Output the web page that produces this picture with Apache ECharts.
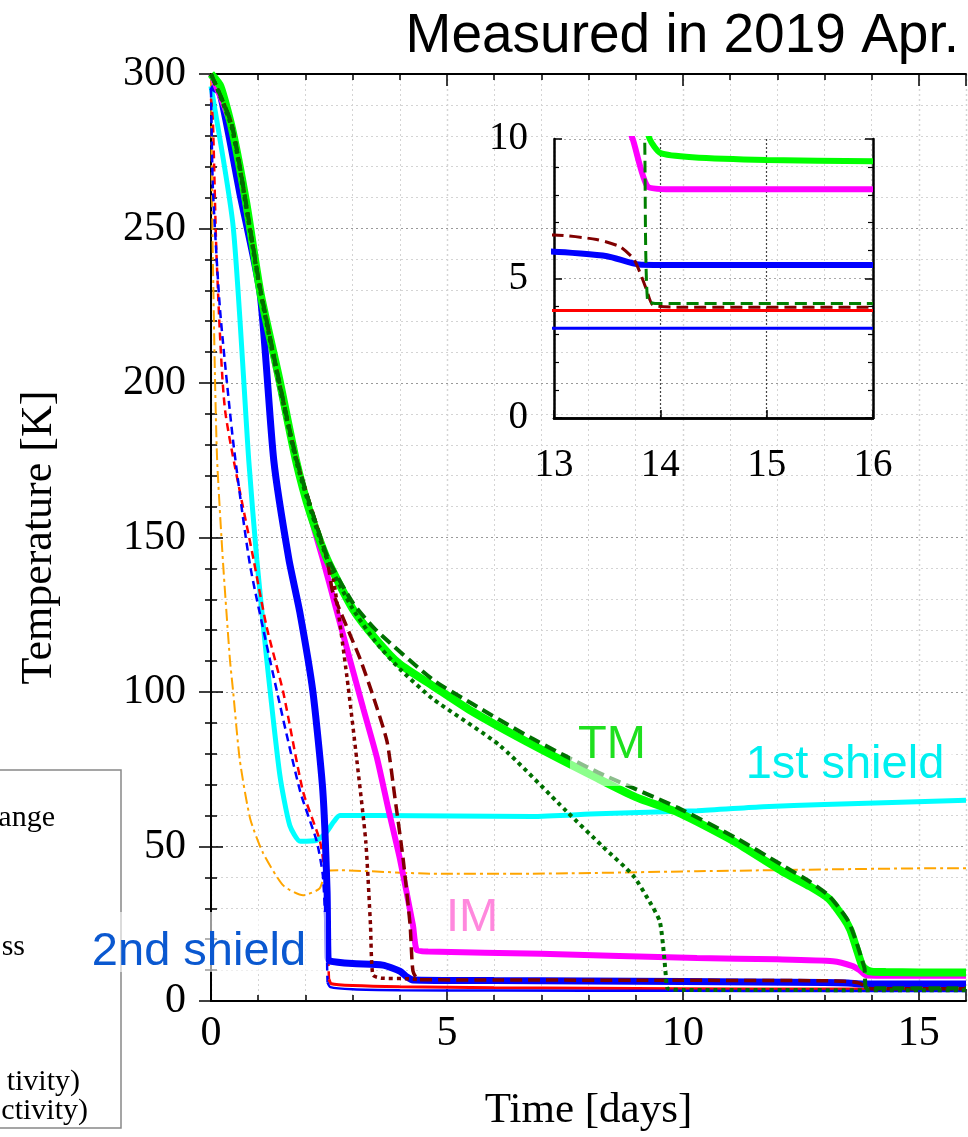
<!DOCTYPE html>
<html>
<head>
<meta charset="utf-8">
<title>Cooling curves</title>
<script src="https://cdn.jsdelivr.net/npm/echarts@6/dist/echarts.min.js"></script>
<style>
  html, body { margin: 0; padding: 0; background: #fff; }
  #chart { width: 968px; height: 1137px; }
</style>
</head>
<body>
<div id="chart"></div>
<script>
// [day, K]
const tmMeasured = [[0,300],[0.2,296],[0.45,282],[0.75,258],[1.05,229],[1.45,201],[1.8,175],[2.1,158],[2.46,143],[3.0,127],[3.5,117],[4.0,109],[4.7,102],[5.5,94],[6.8,83],[8.2,72],[9.0,66],[9.9,61],[10.3,58],[11.1,51.5],[12.1,42],[12.7,37],[13.1,33],[13.4,27],[13.55,23],[13.7,16],[13.8,11.5],[13.9,10],[14.0,9.5],[14.3,9.35],[15.0,9.25],[16,9.2]];
const tmSimDashed = [[0,300],[0.45,283],[1.05,230],[1.8,176],[2.46,144],[3.0,129],[3.5,120],[4.7,104],[5.5,96.5],[6.8,85],[8.2,74],[9.9,62.5],[11.1,53],[12.1,44],[12.7,38.5],[13.1,34],[13.5,26],[13.7,18],[13.8,13],[13.85,10.5],[13.88,4.2],[14.0,4.1],[16,4.1]];
const tmSimDotted = [[0,300],[0.45,282],[1.05,229],[1.8,175],[2.46,143],[3.0,127],[3.5,116],[4.0,107.5],[4.7,97.8],[6.12,82.7],[7.54,61.3],[8.3,50],[8.94,40.7],[9.3,32],[9.51,25.8],[9.6,15],[9.64,8],[9.68,4],[10,3.6],[16,3.5]];
const imMeasured = [[0,300],[0.45,282],[1.05,229],[1.8,175],[2.2,152],[2.37,143],[2.65,127],[2.94,110.7],[3.23,94.5],[3.52,78.5],[3.76,62],[4.0,46.2],[4.28,24.5],[4.36,16.5],[4.6,16],[7,15.3],[10.3,13.9],[12,13.5],[13.18,12.9],[13.6,11.3],[13.74,10],[13.88,8.3],[14.1,8.2],[16,8.2]];
const imSimDashed = [[0,300],[0.45,283],[1.05,230],[1.8,176],[2.46,143],[2.58,132.4],[3.16,110.7],[3.45,98],[3.73,84],[3.9,65.5],[4.07,46.2],[4.22,24.5],[4.28,9.7],[4.4,6.9],[6,6.8],[10,6.7],[13.0,6.56],[13.4,6.4],[13.62,6.14],[13.75,5.7],[13.81,5.2],[13.87,4.6],[13.93,4.05],[14.2,3.97],[16,3.97]];
const imSimDotted = [[0,300],[0.45,283],[1.05,230],[1.8,176],[2.46,143],[2.6,136],[2.88,105],[3.09,78],[3.28,51.6],[3.38,24.5],[3.43,8.4],[3.6,7.4],[4.22,7.2],[4.4,6.9]];
const shield2Measured = [[0,296],[0.19,293.8],[0.61,261.5],[1.04,229],[1.33,175],[1.65,143],[1.88,126],[2.16,100],[2.37,68],[2.46,35.5],[2.48,14],[2.52,12.9],[3.0,12.1],[3.64,11.6],[4.0,9.7],[4.15,7.8],[4.28,6.8],[6,6.6],[10,6.3],[13,5.96],[13.5,5.8],[13.8,5.5],[14.2,5.48],[16,5.48]];
const shield1Measured = [[0,296],[0.47,250.6],[0.8,175],[0.97,143],[1.18,110.7],[1.46,73],[1.67,56.8],[1.89,51.7],[2.24,52],[2.46,54.9],[2.6,58],[2.73,60],[3.5,60],[6.8,59.7],[8.2,60.6],[10.3,61.6],[11.7,62.9],[13,63.6],[16,65]];
const shieldSimRed = [[0,292],[0.04,285],[0.12,240],[0.3,191],[0.9,143],[1.18,121],[1.53,100],[1.95,67.8],[2.31,51.7],[2.42,40],[2.47,20],[2.5,7]];
const shieldSimBlue = [[0,295],[0.04,263],[0.19,224],[0.47,181],[0.83,140.8],[1.40,100],[1.89,67.8],[2.24,51.7],[2.37,40.7],[2.44,20],[2.47,6]];
const redLow = [[2.5,7],[2.55,5.6],[3,5.0],[4,4.6],[6,4.3],[10,4.0],[13,3.85],[16,3.85]];
const blueLow = [[2.47,6],[2.53,4.5],[3,3.8],[4,3.5],[6,3.4],[10,3.3],[13,3.22],[16,3.22]];
const orangeSim = [[0,298],[0.03,250],[0.08,205],[0.13,175],[0.25,143],[0.4,110.7],[0.47,100],[0.61,78],[0.83,59],[1.1,48],[1.53,37.4],[1.95,34.2],[2.3,36.4],[2.45,42],[2.73,42.3],[4.7,41.2],[6.8,41.2],[10.3,42],[15.8,43],[16,43]];

const yTicks = [0, 50, 100, 150, 200, 250, 300];
const xTicks = [0, 5, 10, 15];
const insetXTicks = [13, 14, 15, 16];
const insetYTicks = [0, 5, 10];

const serif = 'Liberation Serif';
const sans = 'Liberation Sans';

function line(data, color, width, type, xi, yi, z) {
  return {
    type: 'line', data: data, xAxisIndex: xi, yAxisIndex: yi, z: z,
    symbol: 'none', smooth: 0.2, clip: true,
    lineStyle: { color: color, width: width, type: type, cap: 'butt' }
  };
}

const dash = [12, 6];
const dot = [4, 4];
const dashDot = [12, 4, 3, 4];

const chart = echarts.init(document.getElementById('chart'));

chart.setOption({
  animation: false,
  backgroundColor: '#fff',
  title: {
    text: 'Measured in 2019 Apr.',
    right: 9, top: 9, padding: 0,
    textStyle: { fontFamily: sans, fontSize: 55, fontWeight: 'normal', color: '#000' }
  },
  grid: [
    { left: 211, right: 2, top: 74, bottom: 134 },
    { left: 554, right: 95, top: 139, bottom: 719 }
  ],
  xAxis: [
    {
      gridIndex: 0, type: 'value', position: 'bottom', min: 0, max: 16, interval: 5,
      name: 'Time [days]', nameLocation: 'middle', nameGap: 88,
      nameTextStyle: { fontFamily: serif, fontSize: 43, color: '#000' },
      axisLine: { lineStyle: { color: '#000', width: 2 } },
      axisTick: { inside: true, length: 12, lineStyle: { color: '#000', width: 1.5 } },
      axisLabel: { fontFamily: serif, fontSize: 42, color: '#000', margin: 12, customValues: xTicks },
      splitLine: { lineStyle: { color: '#999', type: [2, 3], width: 1.2 } }
    },
    {
      gridIndex: 0, type: 'value', position: 'bottom', min: 0, max: 16, interval: 1,
      axisLine: { show: false },
      axisTick: { inside: true, length: 6, lineStyle: { color: '#000', width: 1.5 } },
      axisLabel: { show: false },
      splitLine: { lineStyle: { color: '#d4d4d4', type: [2, 3], width: 1 } }
    },
    {
      gridIndex: 0, type: 'value', position: 'top', min: 0, max: 16, interval: 5,
      axisLine: { lineStyle: { color: '#000', width: 2 } },
      axisTick: { inside: true, length: 12, lineStyle: { color: '#000', width: 1.5 } },
      axisLabel: { show: false }, splitLine: { show: false }
    },
    {
      gridIndex: 0, type: 'value', position: 'top', min: 0, max: 16, interval: 1,
      axisLine: { show: false },
      axisTick: { inside: true, length: 6, lineStyle: { color: '#000', width: 1.5 } },
      axisLabel: { show: false }, splitLine: { show: false }
    },
    {
      gridIndex: 1, type: 'value', position: 'bottom', min: 13, max: 16, interval: 1,
      axisLine: { lineStyle: { color: '#000', width: 2.5 } },
      axisTick: { inside: true, length: 8, lineStyle: { color: '#000', width: 1.5 } },
      axisLabel: { fontFamily: serif, fontSize: 39, color: '#000', margin: 28, customValues: insetXTicks },
      splitLine: { lineStyle: { color: '#444', type: [2, 2], width: 1.2 } }
    },
    {
      gridIndex: 1, type: 'value', position: 'top', min: 13, max: 16, interval: 1,
      axisLine: { lineStyle: { color: '#000', width: 2.5 } },
      axisTick: { show: false }, axisLabel: { show: false }, splitLine: { show: false }
    }
  ],
  yAxis: [
    {
      gridIndex: 0, type: 'value', position: 'left', min: 0, max: 300, interval: 50,
      name: 'Temperature [K]', nameLocation: 'middle', nameGap: 150,
      nameTextStyle: { fontFamily: serif, fontSize: 44, color: '#000' },
      axisLine: { show: true, lineStyle: { color: '#000', width: 2 } },
      axisTick: { show: true, inside: true, length: 12, lineStyle: { color: '#000', width: 1.5 } },
      minorTick: { show: true, splitNumber: 5, length: 6, lineStyle: { color: '#000', width: 1.5 } },
      axisLabel: { fontFamily: serif, fontSize: 42, color: '#000', margin: 25, customValues: yTicks },
      splitLine: { lineStyle: { color: '#999', type: [2, 3], width: 1.2 } },
      minorSplitLine: { show: true, lineStyle: { color: '#d4d4d4', type: [2, 3], width: 1 } }
    },
    {
      gridIndex: 0, type: 'value', position: 'right', min: 0, max: 300, interval: 50,
      axisLine: { show: true, lineStyle: { color: '#000', width: 2 } },
      axisTick: { show: true, inside: true, length: 12, lineStyle: { color: '#000', width: 1.5 } },
      minorTick: { show: true, splitNumber: 5, length: 6, lineStyle: { color: '#000', width: 1.5 } },
      axisLabel: { show: false }, splitLine: { show: false }
    },
    {
      gridIndex: 1, type: 'value', position: 'left', min: 0, max: 10, interval: 5,
      axisLine: { show: true, lineStyle: { color: '#000', width: 2.5 } },
      axisTick: { show: true, inside: true, length: 8, lineStyle: { color: '#000', width: 1.5 } },
      minorTick: { show: true, splitNumber: 5, length: 5, lineStyle: { color: '#000', width: 1.2 } },
      axisLabel: { fontFamily: serif, fontSize: 39, color: '#000', margin: 26, customValues: insetYTicks },
      splitLine: { lineStyle: { color: '#aaa', type: [2, 3], width: 1 } }
    },
    {
      gridIndex: 1, type: 'value', position: 'right', min: 0, max: 10, interval: 5,
      axisLine: { show: true, lineStyle: { color: '#000', width: 2.5 } },
      axisTick: { show: true, inside: true, length: 8, lineStyle: { color: '#000', width: 1.5 } },
      minorTick: { show: true, splitNumber: 5, length: 5, lineStyle: { color: '#000', width: 1.2 } },
      axisLabel: { show: false }, splitLine: { show: false }
    }
  ],
  series: [
    line(orangeSim, '#ffa500', 2, dashDot, 0, 0, 2),
    line(shield1Measured, '#00ffff', 5, 'solid', 0, 0, 3),
    line(shieldSimRed, '#ff0000', 2.5, [8, 5], 0, 0, 3),
    line(shieldSimBlue, '#0000ff', 2.5, [8, 5], 0, 0, 3),
    line(redLow, '#ff0000', 3, 'solid', 0, 0, 3),
    line(blueLow, '#0000ff', 2.5, 'solid', 0, 0, 3),
    line(shield2Measured, '#0000ff', 7, 'solid', 0, 0, 4),
    line(imMeasured, '#ff00ff', 6, 'solid', 0, 0, 4),
    line(tmMeasured, '#00ff00', 8, 'solid', 0, 0, 5),
    line(imSimDotted, '#800000', 3.5, dot, 0, 0, 6),
    line(imSimDashed, '#800000', 3.5, dash, 0, 0, 6),
    line(tmSimDotted, '#007000', 4, dot, 0, 0, 6),
    line(tmSimDashed, '#007000', 4, dash, 0, 0, 6),

    line(redLow, '#ff0000', 3, 'solid', 4, 2, 7),
    line(blueLow, '#0000ff', 3, 'solid', 4, 2, 7),
    line(shield2Measured, '#0000ff', 6, 'solid', 4, 2, 7),
    line(imMeasured, '#ff00ff', 6, 'solid', 4, 2, 7),
    line(tmMeasured, '#00ff00', 6, 'solid', 4, 2, 7),
    line(imSimDashed, '#800000', 3, dash, 4, 2, 8),
    line(tmSimDashed, '#008000', 3, dash, 4, 2, 8)
  ],
  graphic: [
    // legend frame, cut by the left edge of the picture
    { type: 'rect', z: 20, shape: { x: -6, y: 770, width: 127, height: 358 },
      style: { fill: '#fff', stroke: '#888', lineWidth: 1.5 } },
    { type: 'text', z: 21, x: 55, y: 818, style: { text: 'ange', fill: '#000', font: '30px ' + serif, align: 'right', verticalAlign: 'middle' } },
    { type: 'text', z: 21, x: 25, y: 947, style: { text: 'ss', fill: '#000', font: '30px ' + serif, align: 'right', verticalAlign: 'middle' } },
    { type: 'text', z: 21, x: 80, y: 1082, style: { text: 'tivity)', fill: '#000', font: '30px ' + serif, align: 'right', verticalAlign: 'middle' } },
    { type: 'text', z: 21, x: 88, y: 1111, style: { text: 'ctivity)', fill: '#000', font: '30px ' + serif, align: 'right', verticalAlign: 'middle' } },

    // curve labels
    { type: 'rect', z: 22, shape: { x: 570, y: 714, width: 86, height: 72 }, style: { fill: 'rgba(255,255,255,0.55)' } },
    { type: 'text', z: 23, x: 612, y: 745, style: { text: 'TM', fill: '#1ee01e', font: '47px ' + sans, align: 'center', verticalAlign: 'middle' } },
    { type: 'rect', z: 22, shape: { x: 738, y: 736, width: 216, height: 58 }, style: { fill: 'rgba(255,255,255,0.55)' } },
    { type: 'text', z: 23, x: 845, y: 765, style: { text: '1st shield', fill: '#00f0f0', font: '47px ' + sans, align: 'center', verticalAlign: 'middle' } },
    { type: 'rect', z: 22, shape: { x: 440, y: 892, width: 66, height: 54 }, style: { fill: 'rgba(255,255,255,0.55)' } },
    { type: 'text', z: 23, x: 472, y: 918, style: { text: 'IM', fill: '#ff88dd', font: '47px ' + sans, align: 'center', verticalAlign: 'middle' } },
    { type: 'rect', z: 22, shape: { x: 80, y: 912, width: 246, height: 60 }, style: { fill: 'rgba(255,255,255,0.6)' } },
    { type: 'text', z: 23, x: 199, y: 952, style: { text: '2nd shield', fill: '#0a58d0', font: '47px ' + sans, align: 'center', verticalAlign: 'middle' } }
  ]
});
</script>
</body>
</html>
